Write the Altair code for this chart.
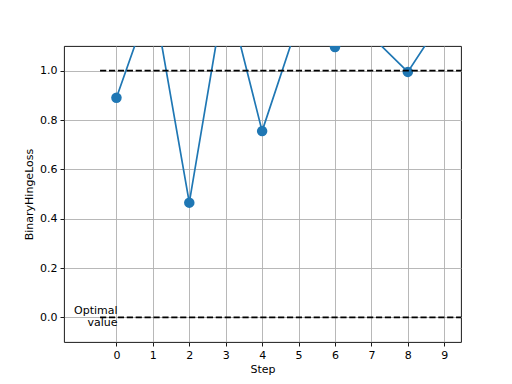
import altair as alt
import pandas as pd

steps = [0, 1, 2, 3, 4, 5, 6, 7, 8, 9]
loss = [0.89, 1.31, 0.465, 1.34, 0.755, 1.20, 1.096, 1.14, 0.995, 1.22]
optimal_values = [1.0, 0.0]
x_ticks = [0, 1, 2, 3, 4, 5, 6, 7, 8, 9]
y_ticks = [0.0, 0.2, 0.4, 0.6, 0.8, 1.0]
label_text = "Optimal\nvalue"

X_DOMAIN = [-1.44, 9.46]
Y_DOMAIN = [-0.1, 1.1]

df = pd.DataFrame({"step": steps, "loss": loss})
df_opt = pd.DataFrame({"y": optimal_values, "x": [-0.45, -0.45], "x2": [X_DOMAIN[1], X_DOMAIN[1]]})
df_txt = pd.DataFrame({"x": [0.03], "y": [0.0], "t": [label_text]})

xs = alt.Scale(domain=X_DOMAIN, nice=False, zero=False)
ys = alt.Scale(domain=Y_DOMAIN, nice=False, zero=False)

x_axis = alt.Axis(values=x_ticks, format="d", title="Step", grid=True, titleFontWeight="normal")
y_axis = alt.Axis(values=y_ticks, format=".1f", title="BinaryHingeLoss", grid=True, titleFontWeight="normal")

base = alt.Chart(df)

line = base.mark_line(color="#1f77b4", strokeWidth=1.7, clip=True).encode(
    x=alt.X("step:Q", scale=xs, axis=x_axis),
    y=alt.Y("loss:Q", scale=ys, axis=y_axis),
)
points = base.mark_circle(color="#1f77b4", size=110, opacity=1, clip=True).encode(
    x=alt.X("step:Q", scale=xs),
    y=alt.Y("loss:Q", scale=ys),
)
rules = alt.Chart(df_opt).mark_rule(color="black", strokeWidth=1.7, strokeDash=[6.2, 2.7], clip=True).encode(
    x=alt.X("x:Q", scale=xs),
    x2="x2:Q",
    y=alt.Y("y:Q", scale=ys),
)
text = alt.Chart(df_txt).mark_text(
    align="right", baseline="middle", fontSize=11, font="DejaVu Sans",
    color="black", lineBreak="\n", lineHeight=12, dy=-6,
).encode(
    x=alt.X("x:Q", scale=xs),
    y=alt.Y("y:Q", scale=ys),
    text="t:N",
)

chart = alt.layer(line, points, rules, text).properties(
    width=397, height=296,
    background="white",
    autosize=alt.AutoSizeParams(type="none"),
    padding={"left": 64, "top": 46, "right": 51, "bottom": 42},
).configure_view(
    stroke="black", strokeWidth=0.9
).configure_axis(
    domain=False,
    gridColor="#b0b0b0", gridWidth=0.9,
    tickColor="black", tickSize=4, tickWidth=0.9,
    labelFont="DejaVu Sans", labelFontSize=11, labelColor="black",
    titleFont="DejaVu Sans", titleFontSize=11, titleColor="black",
    titleFontWeight="normal", labelPadding=3,
).configure_axisX(titlePadding=3).configure_axisY(titlePadding=5)

chart.save("out.html", embed_options={"renderer": "svg", "actions": False})
